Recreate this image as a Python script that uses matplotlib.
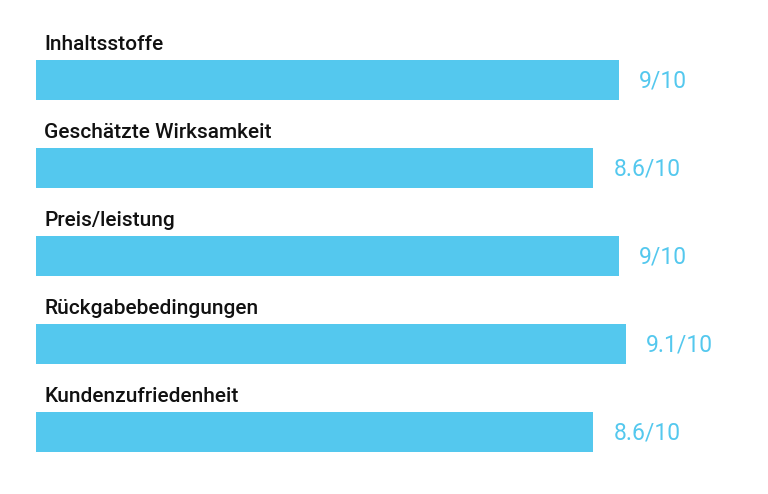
import matplotlib
matplotlib.use("Agg")
import matplotlib.pyplot as plt

# ── data ──────────────────────────────────────────────
categories = ["Inhaltsstoffe", "Geschätzte Wirksamkeit", "Preis/leistung",
              "Rückgabebedingungen", "Kundenzufriedenheit"]
scores = [9.0, 8.6, 9.0, 9.1, 8.6]
score_labels = ["9/10", "8.6/10", "9/10", "9.1/10", "8.6/10"]

bar_color = "#54C8EE"
plt.rcParams["font.family"] = ["Roboto", "DejaVu Sans"]

fig = plt.figure(figsize=(7.68, 4.94), dpi=100)
ax = fig.add_axes([0, 0, 1, 1])

px_per_unit = 64.8   # horizontal pixel scale
row_px = 88          # vertical spacing between rows

ax.set_xlim(-36 / px_per_unit, (768 - 36) / px_per_unit)
ax.set_ylim((494 - 80) / row_px, -80 / row_px)
ax.axis("off")

bar_h = 40 / row_px
for i, (cat, val, lab) in enumerate(zip(categories, scores, score_labels)):
    ax.barh(i, val, height=bar_h, left=0, color=bar_color)
    ax.text(8 / px_per_unit, i - bar_h / 2 - 10 / row_px, cat,
            fontsize=15, fontweight="medium", color="#111111",
            va="baseline", ha="left")
    ax.text(val + 20 / px_per_unit, i + 1 / row_px, lab,
            fontsize=16.5, color=bar_color, va="center", ha="left")

fig.savefig("out.png", dpi=100)
